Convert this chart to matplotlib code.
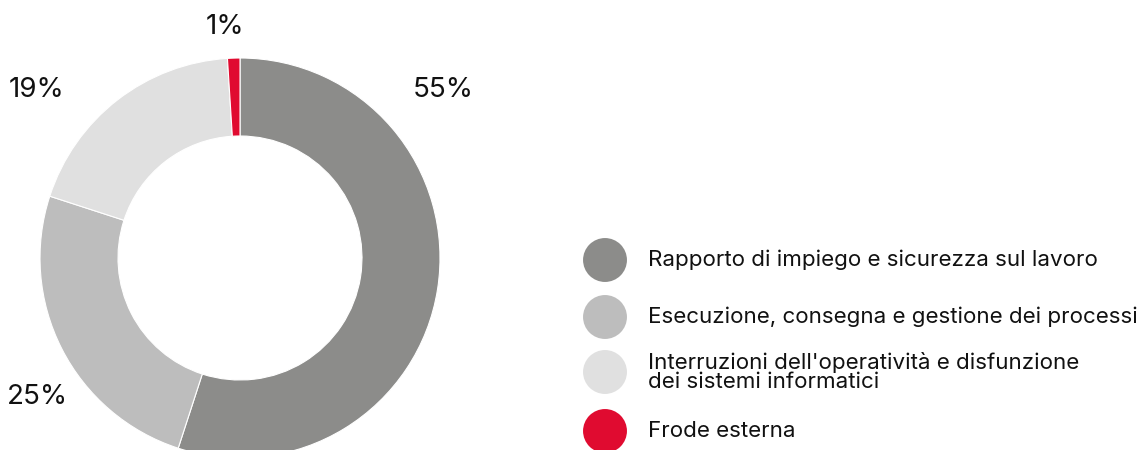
import matplotlib.pyplot as plt

# Ripartizione delle perdite operative per tipologia di evento
categories = [
    "Rapporto di impiego e sicurezza sul lavoro",
    "Esecuzione, consegna e gestione dei processi",
    "Interruzioni dell'operatività e disfunzione\ndei sistemi informatici",
    "Frode esterna",
]
shares = [55, 25, 19, 1]
pct_labels = ["55%", "25%", "19%", "1%"]
colors = ["#8c8c8a", "#bdbdbd", "#e0e0e0", "#e00b30"]

plt.rcParams["font.family"] = ["Inter", "DejaVu Sans"]

W, H = 1141, 450
R = 200.0  # outer radius in pixels
cx, cy = 240, 450 - 258  # donut centre in pixels (from bottom)

fig = plt.figure(figsize=(W / 100, H / 100), dpi=100)
ax = fig.add_axes([0, 0, 1, 1])

ax.pie(shares, colors=colors, startangle=90, counterclock=False, radius=1.0,
       wedgeprops=dict(width=0.39, edgecolor="white", linewidth=0.8))

ax.set_xlim(-cx / R, (W - cx) / R)
ax.set_ylim(-cy / R, (H - cy) / R)
ax.set_aspect("equal")
ax.axis("off")

# percentage labels around the ring
label_pos = {"55%": (443, 90), "25%": (37, 397), "19%": (37, 90), "1%": (225, 27)}
for lab in pct_labels:
    px, py = label_pos[lab]
    ax.text((px - cx) / R, (H - py - cy) / R, lab, fontsize=20,
            ha="center", va="center", color="#111111")

# legend
leg_y = [260, 317, 372, 431]
for cat, col, py in zip(categories, colors, leg_y):
    y = (H - py - cy) / R
    ax.scatter([(605 - cx) / R], [y], s=1000, color=col, edgecolors="none",
               clip_on=False)
    ax.text((648 - cx) / R, y, cat, fontsize=16.1, ha="left", va="center",
            color="#111111", linespacing=0.97)

fig.savefig("out.png", dpi=100)
